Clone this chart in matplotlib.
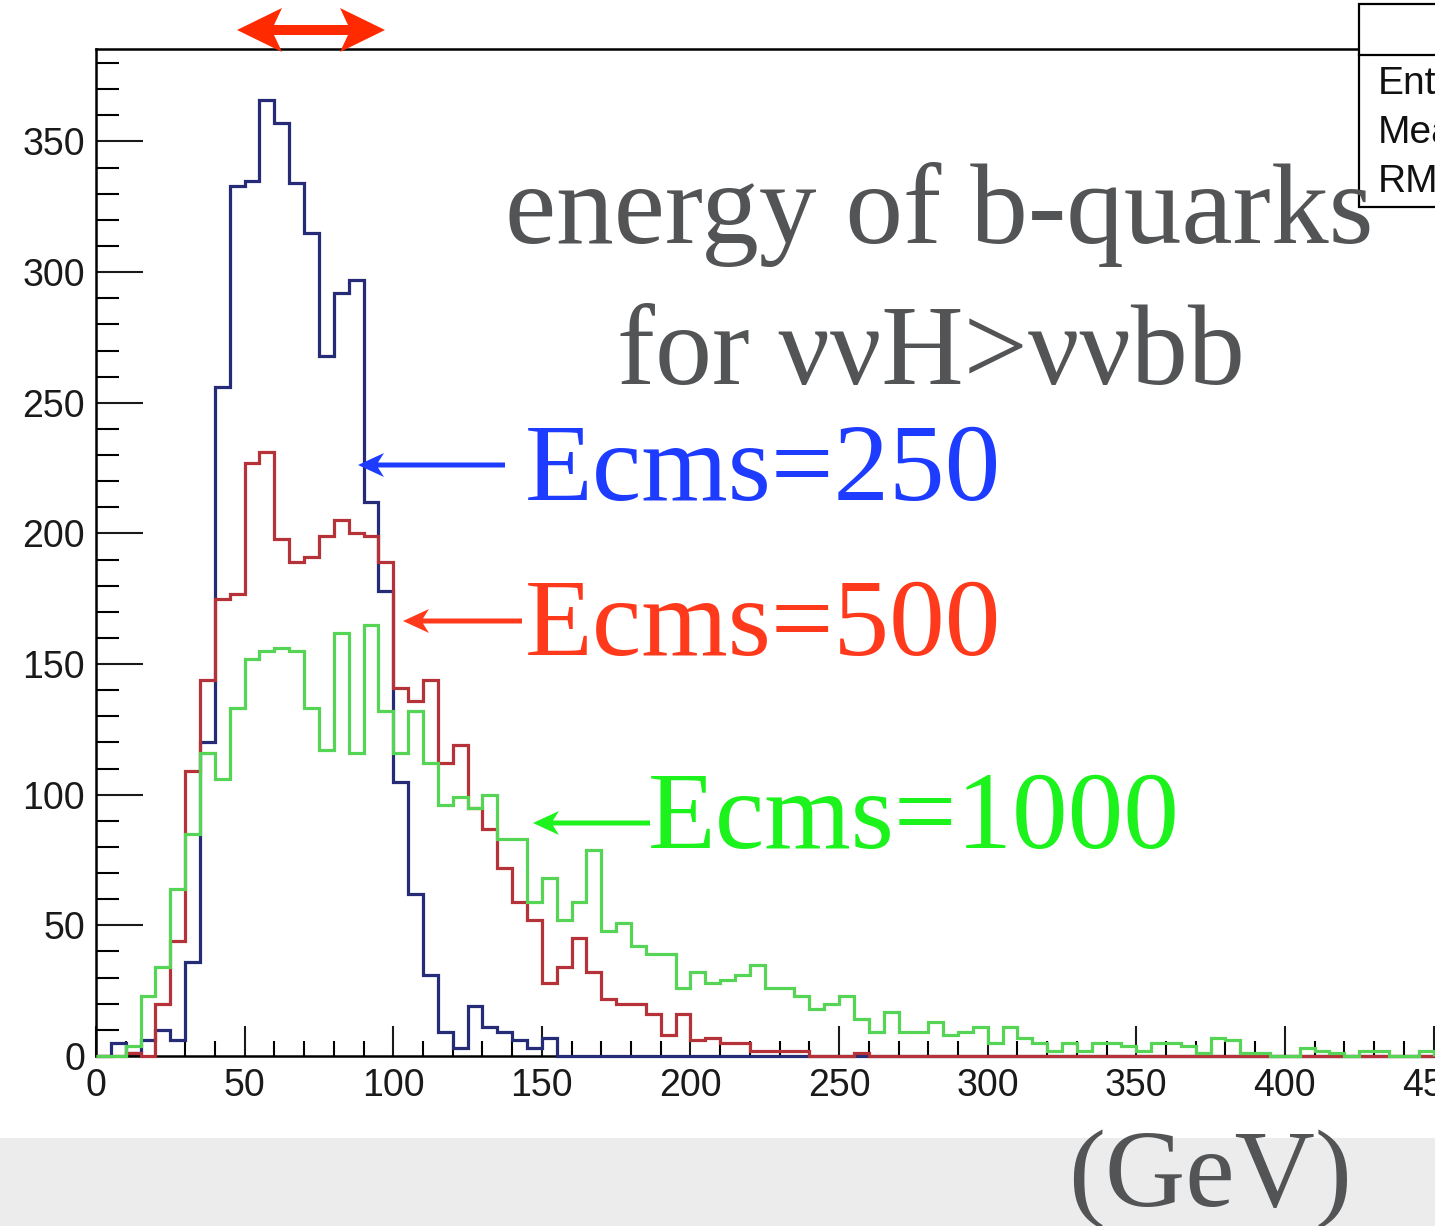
import numpy as np
import matplotlib
matplotlib.use("Agg")
import matplotlib.pyplot as plt
from matplotlib.patches import Polygon, Rectangle
from matplotlib.ticker import MultipleLocator

W, H = 1435, 1226

# 5 GeV bins, 0-450 GeV
bin_edges = np.arange(0, 455, 5)

blue_250 = [0, 5, 1, 6, 10, 6, 36, 120, 256, 333, 335, 366, 357, 334, 315, 268,
            292, 297, 212, 178, 105, 62, 31, 9, 3, 19, 11, 9, 6, 3, 7]
red_500 = [0, 0, 1, 0, 20, 44, 109, 144, 175, 177, 227, 231, 198, 189, 191, 199,
           205, 200, 199, 189, 141, 136, 144, 112, 119, 95, 87, 72, 59, 52, 28,
           34, 45, 32, 22, 20, 20, 16, 8, 16, 6, 7, 5, 5, 2, 2, 2, 2, 0, 0, 0, 1]
green_1000 = [0, 0, 4, 23, 34, 64, 85, 116, 106, 133, 152, 155, 156, 155, 133, 117,
              162, 116, 165, 132, 116, 132, 112, 96, 99, 95, 100, 83, 83, 59, 68,
              52, 59, 79, 48, 51, 42, 39, 39, 26, 32, 28, 29, 31, 35, 26, 26, 23,
              18, 20, 23, 14, 9, 17, 9, 9, 13, 8, 9, 11, 5, 11, 7, 5, 2, 5, 2, 5,
              5, 4, 2, 5, 5, 4, 1, 7, 6, 1, 1, 0, 0, 3, 2, 1, 0, 2, 2, 0, 0, 2]

labels = ["Ecms=250", "Ecms=500", "Ecms=1000"]
hist_colors = ["#262b78", "#b53238", "#55d455"]
label_colors = ["#1e3cff", "#ff3a1c", "#1cf21c"]


def padded(vals):
    out = np.zeros(len(bin_edges) - 1)
    out[:len(vals)] = vals
    return out


def fx(x):
    return x / W


def fy(y):
    return 1 - y / H


def arrow_poly(x_tip, x_tail, y, head_len, half_w, shaft_half, notch, both=False):
    d = 1 if x_tail > x_tip else -1
    pts = [(x_tip, y),
           (x_tip + d * head_len, y - half_w),
           (x_tip + d * (head_len - notch), y - shaft_half)]
    if both:
        pts += [(x_tail - d * (head_len - notch), y - shaft_half),
                (x_tail - d * head_len, y - half_w),
                (x_tail, y),
                (x_tail - d * head_len, y + half_w),
                (x_tail - d * (head_len - notch), y + shaft_half)]
    else:
        pts += [(x_tail, y - shaft_half), (x_tail, y + shaft_half)]
    pts += [(x_tip + d * (head_len - notch), y + shaft_half),
            (x_tip + d * head_len, y + half_w)]
    return [(fx(px), fy(py)) for px, py in pts]


plt.rcParams["font.family"] = ["Liberation Sans", "DejaVu Sans"]

fig = plt.figure(figsize=(W / 100, H / 100), dpi=100)
fig.patch.set_facecolor("white")

ax = fig.add_axes([fx(96), fy(1056), 1 - fx(96), (1056 - 49) / H])
ax.set_xlim(0, 450.5)
ax.set_ylim(0, 385.4)

for vals, col in zip([blue_250, red_500, green_1000], hist_colors):
    ax.stairs(padded(vals), bin_edges, baseline=0, color=col, linewidth=2.3,
              zorder=3, clip_on=False)

ax.xaxis.set_major_locator(MultipleLocator(50))
ax.xaxis.set_minor_locator(MultipleLocator(10))
ax.yaxis.set_major_locator(MultipleLocator(50))
ax.yaxis.set_minor_locator(MultipleLocator(10))
ax.tick_params(axis="y", which="major", direction="in", length=34, width=1.5,
               pad=8, labelsize=27, colors="#1a1a1a")
ax.tick_params(axis="y", which="minor", direction="in", length=16.5, width=1.5)
ax.tick_params(axis="x", which="major", direction="in", length=21.5, width=1.5,
               pad=9, labelsize=27, colors="#1a1a1a")
ax.tick_params(axis="x", which="minor", direction="in", length=11, width=1.5)
for side in ["left", "bottom", "top"]:
    ax.spines[side].set_linewidth(1.8)
ax.spines["right"].set_visible(False)

# statistics box, cut by the canvas edge
fig.add_artist(Rectangle((fx(1359), fy(207)), 0.2, (207 - 4) / H,
                         transform=fig.transFigure, facecolor="white",
                         edgecolor="black", linewidth=1.6, zorder=5))
fig.add_artist(plt.Line2D([fx(1359), 1], [fy(55), fy(55)], color="black",
                          linewidth=1.6, zorder=6))
for txt, yb in zip(["Entries", "Mean", "RMS"], [94, 143, 192]):
    fig.text(fx(1378), fy(yb), txt, fontsize=28, color="#111111",
             va="baseline", ha="left", zorder=7)

# slide background band at the bottom
fig.add_artist(Rectangle((0, 0), 1, (H - 1138) / H, transform=fig.transFigure,
                         facecolor="#ececec", edgecolor="none", zorder=0))

serif = ["Liberation Serif", "DejaVu Serif"]
fig.text(fx(505), fy(243), "energy of b-quarks", fontsize=83, family=serif,
         color="#525456", va="baseline", ha="left", zorder=9)
fig.text(fx(617), fy(384), "for ννH>ννbb", fontsize=82, family=serif,
         color="#525456", va="baseline", ha="left", zorder=9)
fig.text(fx(1068), fy(1207), "(GeV)", fontsize=80, family=serif,
         color="#525456", va="baseline", ha="left", zorder=9)

label_pos = [(525, 500), (525, 655), (648, 848)]
arrow_pos = [(358, 505, 465), (403, 522, 621), (533, 650, 823)]
for txt, col, (tx, ty), (x_tip, x_tail, ay) in zip(labels, label_colors, label_pos, arrow_pos):
    fig.text(fx(tx), fy(ty), txt, fontsize=80, family=serif, color=col,
             va="baseline", ha="left", zorder=9)
    fig.add_artist(Polygon(arrow_poly(x_tip, x_tail, ay, 26, 12, 2.5, 6),
                           closed=True, transform=fig.transFigure,
                           facecolor=col, edgecolor="none", zorder=6))

# double arrow marking the peak width
fig.add_artist(Polygon(arrow_poly(237, 385, 30, 45, 22, 5, 8, both=True),
                       closed=True, transform=fig.transFigure,
                       facecolor="#ff2a00", edgecolor="none", zorder=6))

fig.savefig("out.png", dpi=100)
